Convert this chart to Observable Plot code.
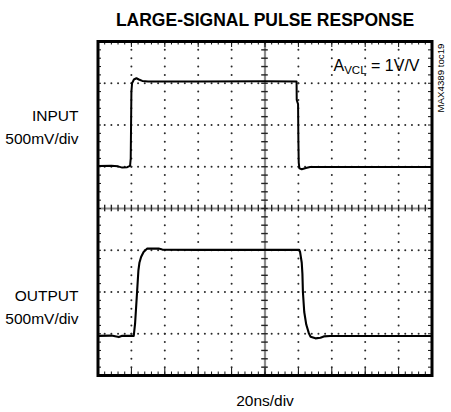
<!DOCTYPE html>
<html><head><meta charset="utf-8">
<script src="https://cdn.jsdelivr.net/npm/d3@7"></script>
<script src="https://cdn.jsdelivr.net/npm/@observablehq/plot@0.6"></script>
<style>body{margin:0;background:#fff} svg{display:block}</style>
</head><body><div id="chart"></div>
<script>
// ---- text ----
const titleText = ["LARGE-SIGNAL PULSE RESPONSE"];
const inputLabel = ["INPUT", "500mV/div"];
const outputLabel = ["OUTPUT", "500mV/div"];
const xLabel = ["20ns/div"];
const gainLabel = ["A", "VCL", " = 1V/V"];
const docLabel = ["MAX4389 toc19"];

// ---- scope grid (time in ns, level in V) ----
const xTicks = [0, 20, 40, 60, 80, 100, 120, 140, 160, 180, 200];
const yTicks = [-2, -1.5, -1, -0.5, 0, 0.5, 1, 1.5, 2];
const subdiv = 5;

// ---- traces ----
const inputT = [0, 8, 12, 14.5, 17.5, 19.2, 19.6, 19.8, 20.0, 20.4, 21.5, 23, 24.5, 26.5, 30, 60, 100,
  118.9, 119.0, 119.8, 120.0, 120.2, 120.6, 122, 124.5, 127, 200];
const inputV = [0.51, 0.512, 0.505, 0.49, 0.495, 0.51, 0.6, 1.0, 1.4, 1.5, 1.545, 1.56, 1.545, 1.528, 1.522, 1.522, 1.525,
  1.522, 1.3, 1.25, 0.8, 0.55, 0.48, 0.47, 0.485, 0.497, 0.497];

const outputT = [0, 8, 12.5, 14.5, 21.4, 22.2, 23.4, 24.2, 24.8, 25.8, 27.3, 29.5, 36.3, 38.5, 60, 120.5,
  121.0, 122.0, 122.4, 122.7, 123.5, 124.7, 126.2, 127.3, 130.2, 133.2, 135.2, 139, 200];
const outputV = [-1.525, -1.522, -1.54, -1.525, -1.525, -1.38, -1.0, -0.74, -0.65, -0.58, -0.52, -0.48, -0.48, -0.492, -0.495, -0.495,
  -0.52, -0.65, -0.78, -1.0, -1.24, -1.39, -1.49, -1.535, -1.555, -1.548, -1.532, -1.527, -1.527];

// ---- derived tables ----
const inputData = inputT.map((t, i) => ({t, v: inputV[i]}));
const outputData = outputT.map((t, i) => ({t, v: outputV[i]}));
const xStep = (xTicks[1] - xTicks[0]) / subdiv;
const yStep = (yTicks[1] - yTicks[0]) / subdiv;
const xMinor = d3.range(0, (xTicks.length - 1) * subdiv + 1).map(i => xTicks[0] + i * xStep);
const yMinor = d3.range(0, (yTicks.length - 1) * subdiv + 1).map(i => +(yTicks[0] + i * yStep).toFixed(3));
const xInner = xTicks.slice(1, -1);
const yInner = yTicks.slice(1, -1);
const xMid = xTicks[(xTicks.length - 1) / 2];
const yMid = yTicks[(yTicks.length - 1) / 2];
const xMin = xTicks[0], xMax = xTicks[xTicks.length - 1];
const yMin = yTicks[0], yMax = yTicks[yTicks.length - 1];

const dotsV = [];
for (const x of xInner) if (x !== xMid) for (const y of yMinor.slice(1, -1)) dotsV.push({x, y});
const dotsH = [];
for (const y of yInner) if (y !== yMid) for (const x of xMinor.slice(1, -1)) dotsH.push({x, y});

const font = "'Liberation Sans', Arial, Helvetica, sans-serif";
const pxX = (xMax - xMin) / 334;   // ns per px
const pxY = (yMax - yMin) / 334;   // V per px

const plot = Plot.plot({
  width: 451, height: 412,
  marginLeft: 97.5, marginRight: 19.5, marginTop: 41, marginBottom: 37,
  x: {domain: [xMin, xMax], axis: null},
  y: {domain: [yMin, yMax], axis: null},
  style: {fontFamily: font, background: "white", color: "black"},
  marks: [
    // dotted graticule
    Plot.dot(dotsV, {x: "x", y: "y", r: 1.0, fill: "#2a2a2a", stroke: null}),
    Plot.dot(dotsH, {x: "x", y: "y", r: 1.0, fill: "#2a2a2a", stroke: null}),
    // centre crosshair
    Plot.ruleY([yMid], {stroke: "#8c8c8c", strokeWidth: 2.2}),
    Plot.ruleX([xMid], {stroke: "#8c8c8c", strokeWidth: 2.2}),
    Plot.ruleX(xMinor, {y1: yMid - 3.3 * pxY, y2: yMid + 3.3 * pxY, stroke: "#222", strokeWidth: 1.4}),
    Plot.ruleY(yMinor, {x1: xMid - 3.3 * pxX, x2: xMid + 3.3 * pxX, stroke: "#222", strokeWidth: 1.4}),
    // edge ticks
    Plot.ruleX(xMinor, {y1: yMin, y2: yMin + 3.5 * pxY, stroke: "#111", strokeWidth: 1}),
    Plot.ruleX(xMinor, {y1: yMax, y2: yMax - 3.5 * pxY, stroke: "#111", strokeWidth: 1}),
    Plot.ruleY(yMinor, {x1: xMin, x2: xMin + 3.5 * pxX, stroke: "#111", strokeWidth: 1}),
    Plot.ruleY(yMinor, {x1: xMax, x2: xMax - 3.5 * pxX, stroke: "#111", strokeWidth: 1}),
    Plot.ruleX(xInner, {y1: yMin, y2: yMin + 7 * pxY, stroke: "#111", strokeWidth: 1}),
    Plot.ruleX(xInner, {y1: yMax, y2: yMax - 6 * pxY, stroke: "#111", strokeWidth: 1}),
    // traces
    Plot.line(inputData, {x: "t", y: "v", stroke: "black", strokeWidth: 2}),
    Plot.line(outputData, {x: "t", y: "v", stroke: "black", strokeWidth: 2.1}),
    Plot.frame({stroke: "black", strokeWidth: 3}),
    // texts
    Plot.text(titleText, {text: d => d, frameAnchor: "top", dy: -16, lineAnchor: "bottom",
      fontSize: 17.5, fontWeight: "bold", fill: "black"}),
    Plot.text([inputLabel[0]], {text: d => d, frameAnchor: "top-left", dx: -19.5, dy: 79, textAnchor: "end", lineAnchor: "bottom", fontSize: 15.5, fill: "black"}),
    Plot.text([inputLabel[1]], {text: d => d, frameAnchor: "top-left", dx: -19.5, dy: 102, textAnchor: "end", lineAnchor: "bottom", fontSize: 15.5, fill: "black"}),
    Plot.text([outputLabel[0]], {text: d => d, frameAnchor: "top-left", dx: -19.5, dy: 259, textAnchor: "end", lineAnchor: "bottom", fontSize: 15.5, fill: "black"}),
    Plot.text([outputLabel[1]], {text: d => d, frameAnchor: "top-left", dx: -19.5, dy: 282, textAnchor: "end", lineAnchor: "bottom", fontSize: 15.5, fill: "black"}),
    Plot.text(xLabel, {text: d => d, frameAnchor: "bottom", dy: 30, lineAnchor: "bottom", fontSize: 15.5, fill: "black"}),
    Plot.text(docLabel, {text: d => d, frameAnchor: "top-right", dx: 8.5, dy: 36.5, rotate: -90, textAnchor: "middle", lineAnchor: "middle", fontSize: 9.7, fill: "black"})
  ]
});

// gain label with subscript
const xr = plot.scale("x").range, yr = plot.scale("y").range;
const g = d3.select(plot).append("text")
  .attr("x", xr[1] - 12).attr("y", yr[1] + 29.7)
  .attr("text-anchor", "end")
  .attr("font-family", font).attr("font-size", 16).attr("fill", "black");
g.append("tspan").text(gainLabel[0]);
g.append("tspan").attr("font-size", 11.5).attr("dy", 3.5).text(gainLabel[1]);
g.append("tspan").attr("dy", -3.5).text(gainLabel[2]);

document.getElementById("chart").appendChild(plot);
</script>
</body></html>
